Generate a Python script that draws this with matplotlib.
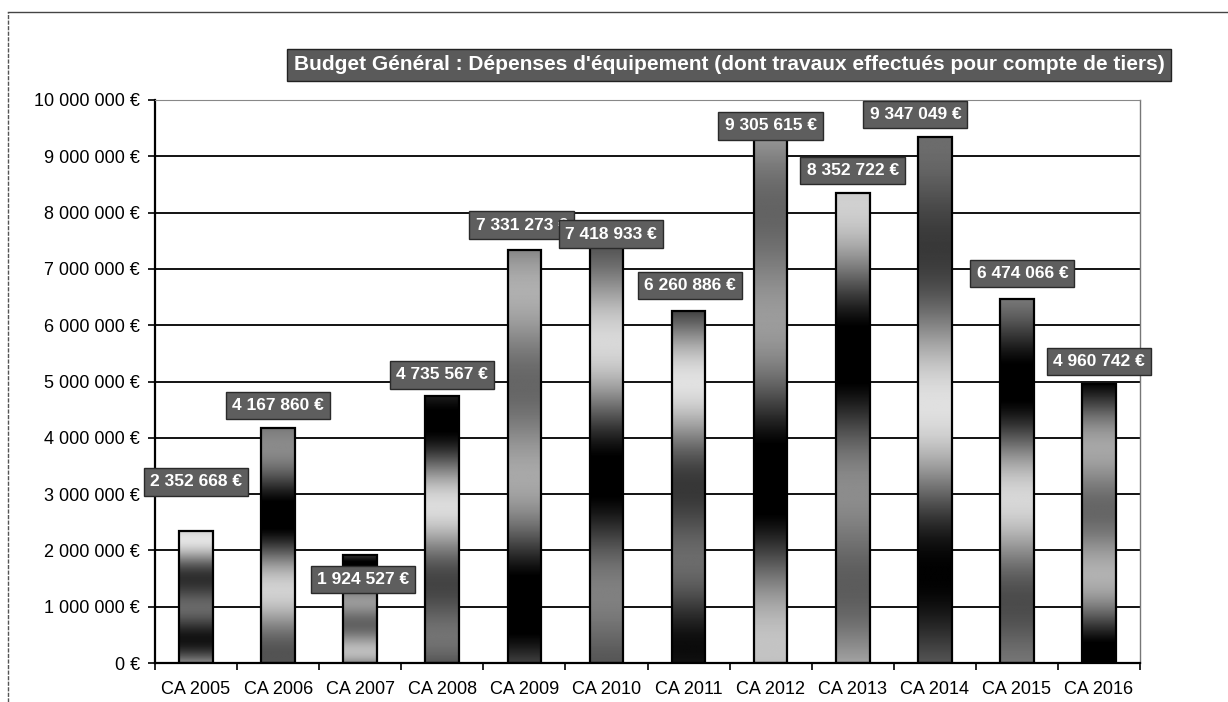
import numpy as np
import matplotlib
matplotlib.use("Agg")
import matplotlib.pyplot as plt
from matplotlib.lines import Line2D
from matplotlib.ticker import FuncFormatter, FixedLocator

# Données
categories = ["CA 2005", "CA 2006", "CA 2007", "CA 2008", "CA 2009", "CA 2010",
              "CA 2011", "CA 2012", "CA 2013", "CA 2014", "CA 2015", "CA 2016"]
depenses = [2352668, 4167860, 1924527, 4735567, 7331273, 7418933,
            6260886, 9305615, 8352722, 9347049, 6474066, 4960742]
titre = "Budget Général : Dépenses d'équipement (dont travaux effectués pour compte de tiers)"

# décalage des étiquettes (points) par rapport au haut de la barre
label_dx = [0, 0, 2, 0, -2, 3.5, 1, 0, 0, -14, 4, 0]
label_dy = [35, 16.5, -18, 15.5, 18, 8, 18, 9.5, 16, 16, 18, 16]


def euro(v, pos=None):
    return "{:,.0f} €".format(v).replace(",", " ")


plt.rcParams["font.family"] = ["Liberation Sans", "DejaVu Sans"]

fig = plt.figure(figsize=(12.28, 7.02), dpi=100)
ax = fig.add_axes([155 / 1228, 1 - 663 / 702, (1140 - 155) / 1228, (663 - 100) / 702])

x = np.arange(len(categories))
bars = ax.bar(x, depenses, width=0.41, facecolor="none", edgecolor="black",
              linewidth=1.6, zorder=3)

# remplissage dégradé façon Excel
t = np.linspace(0, 1, 300)
phases = [0.2, 1.1, 2.3, 0.7, 1.8, 2.9, 0.4, 1.5, 2.6, 3.3, 0.9, 2.0]
for i, b in enumerate(bars):
    ph = phases[i]
    grad = 0.4 + 0.5 * np.cos(2 * np.pi * (1.4 * t + ph)) * np.cos(np.pi * (0.9 * t + ph / 2))
    img = np.tile(np.clip(grad, 0, 1)[:, None], (1, 10))
    x0, y0 = b.get_x(), b.get_y()
    w, h = b.get_width(), b.get_height()
    im = ax.imshow(img, cmap="gray", vmin=0, vmax=1, origin="lower", aspect="auto",
                   extent=[x0, x0 + w, y0, y0 + h], zorder=2, interpolation="bilinear")
    im.set_clip_path(b)

for i, v in enumerate(depenses):
    ax.annotate(euro(v), (x[i], v), xytext=(label_dx[i], label_dy[i]),
                textcoords="offset points", ha="center", va="center",
                color="white", fontsize=12.5, fontweight="bold", zorder=5,
                bbox=dict(boxstyle="square,pad=0.36", facecolor="#5e5e5e",
                          edgecolor="#2a2a2a", linewidth=1))

ax.set_xlim(-0.5, len(categories) - 0.5)
ax.set_ylim(0, 10000000)
ax.set_yticks(np.arange(0, 10000001, 1000000))
ax.yaxis.set_major_formatter(FuncFormatter(euro))
ax.yaxis.grid(True, color="black", linewidth=1.3, zorder=1)
ax.set_axisbelow(True)

ax.set_xticks(x)
ax.set_xticklabels(categories)
ax.xaxis.set_minor_locator(FixedLocator(np.arange(-0.5, len(categories), 1)))
ax.tick_params(axis="x", which="major", length=0, pad=13, labelsize=13)
ax.tick_params(axis="x", which="minor", length=5, width=1.2, direction="out")
ax.tick_params(axis="y", length=5, width=1.2, direction="out", labelsize=13, pad=6)

for s in ["left", "bottom"]:
    ax.spines[s].set_linewidth(1.6)
    ax.spines[s].set_color("black")
ax.spines["top"].set_color("#888888")
ax.spines["top"].set_linewidth(0.8)
ax.spines["right"].set_color("#777777")
ax.spines["right"].set_linewidth(1.0)
ax.spines["right"].set_linestyle((0, (2, 1)))

fig.text(729 / 1228, 1 - 65 / 702, titre, ha="center", va="center", color="white",
         fontsize=15, fontweight="bold",
         bbox=dict(boxstyle="square,pad=0.3", facecolor="#5a5a5a",
                   edgecolor="#222222", linewidth=1))

# cadre de la page
fig.add_artist(Line2D([8 / 1228, 1], [1 - 12 / 702, 1 - 12 / 702], color="#444444", linewidth=1))
fig.add_artist(Line2D([8 / 1228, 8 / 1228], [0, 1 - 12 / 702], color="#555555",
                      linewidth=1, linestyle=(0, (3, 1))))

fig.savefig("out.png", dpi=100, facecolor="white")
